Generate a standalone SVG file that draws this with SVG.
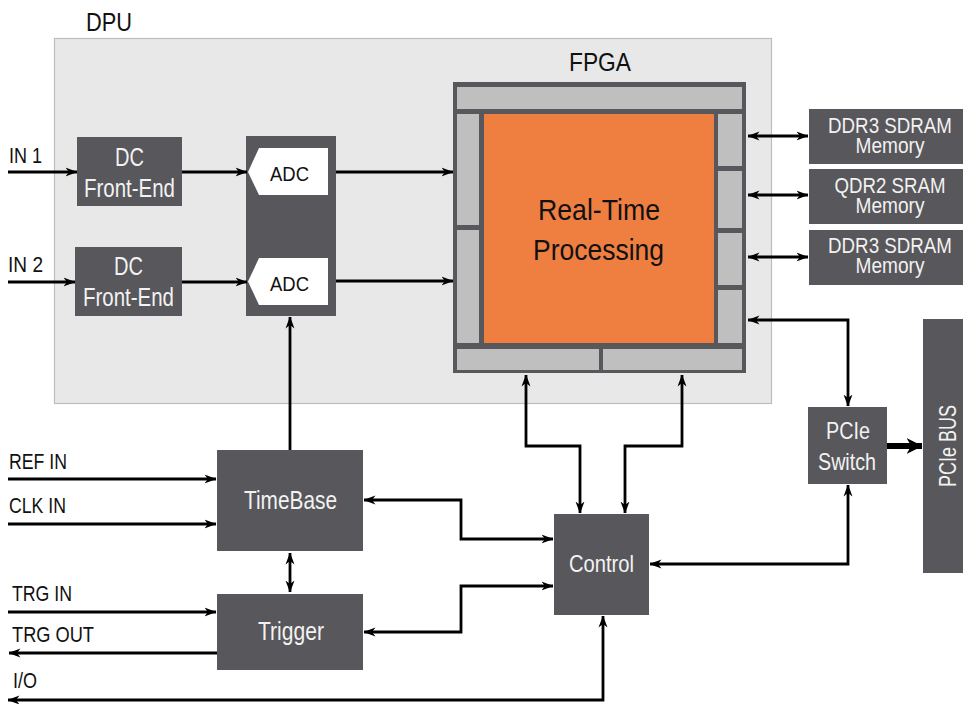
<svg xmlns="http://www.w3.org/2000/svg" width="963" height="704" viewBox="0 0 963 704">
<defs>
<style>
.box{fill:#58575b}
.lt{fill:#bfbfbf}
.wt{font-family:"Liberation Sans",Arial,sans-serif;fill:#f2f2f2;text-anchor:middle}
.bt{font-family:"Liberation Sans",Arial,sans-serif;fill:#111}
.ln{fill:none;stroke:#000;stroke-width:2.8}
.a{marker-end:url(#ah)}
.b{marker-start:url(#ah);marker-end:url(#ah)}
</style>
<marker id="ah" viewBox="0 0 12 10" refX="11.5" refY="5" markerWidth="12" markerHeight="10" markerUnits="userSpaceOnUse" orient="auto-start-reverse">
<path d="M0,0.5 L12,5 L0,9.5 L3.5,5 z" fill="#000"/>
</marker>
<marker id="ahb" viewBox="0 0 14 14" refX="13.5" refY="7" markerWidth="16" markerHeight="16" markerUnits="userSpaceOnUse" orient="auto">
<path d="M0,0 L14,7 L0,14 L4,7 z" fill="#000"/>
</marker>
</defs>

<g id="dpu">
<rect x="54.5" y="38.5" width="717" height="365" fill="#e8e8e8" stroke="#bdbdbd" stroke-width="1.2"/>
<text class="bt" x="86" y="31" font-size="26" textLength="46" lengthAdjust="spacingAndGlyphs">DPU</text>
</g>

<g id="dcfe1">
<rect class="box" x="77" y="137" width="105" height="69"/>
<text class="wt" x="129.5" y="166" font-size="25" textLength="29" lengthAdjust="spacingAndGlyphs">DC</text>
<text class="wt" x="129.5" y="197" font-size="25" textLength="91" lengthAdjust="spacingAndGlyphs">Front-End</text>
</g>
<g id="dcfe2">
<rect class="box" x="75" y="247" width="107" height="69"/>
<text class="wt" x="128.5" y="275" font-size="25" textLength="29" lengthAdjust="spacingAndGlyphs">DC</text>
<text class="wt" x="128.5" y="306" font-size="25" textLength="91" lengthAdjust="spacingAndGlyphs">Front-End</text>
</g>

<g id="adc">
<rect class="box" x="246" y="136" width="90" height="180"/>
<path d="M248,172 L259,148 L328,148 L328,195 L259,195 z" fill="#fff"/>
<path d="M248,281.5 L259,258 L328,258 L328,305 L259,305 z" fill="#fff"/>
<text class="bt" x="289.5" y="181" font-size="21" text-anchor="middle" textLength="39" lengthAdjust="spacingAndGlyphs">ADC</text>
<text class="bt" x="289.5" y="291" font-size="21" text-anchor="middle" textLength="39" lengthAdjust="spacingAndGlyphs">ADC</text>
</g>

<g id="fpga">
<text class="bt" x="600" y="71" font-size="26" text-anchor="middle" textLength="62" lengthAdjust="spacingAndGlyphs">FPGA</text>
<rect class="box" x="453" y="82" width="293" height="291"/>
<rect class="lt" x="457" y="87" width="285" height="22"/>
<rect class="lt" x="457" y="114" width="22" height="111"/>
<rect class="lt" x="457" y="230" width="22" height="113"/>
<rect class="lt" x="718" y="114" width="24" height="52"/>
<rect class="lt" x="718" y="171" width="24" height="57"/>
<rect class="lt" x="718" y="233" width="24" height="52"/>
<rect class="lt" x="718" y="290" width="24" height="53"/>
<rect class="lt" x="457" y="349" width="142" height="21"/>
<rect class="lt" x="603" y="349" width="139" height="21"/>
<rect x="484" y="114" width="230" height="229" fill="#ef7f41"/>
<text class="bt" x="599" y="220" font-size="30" text-anchor="middle" textLength="122" lengthAdjust="spacingAndGlyphs">Real-Time</text>
<text class="bt" x="598.5" y="260" font-size="30" text-anchor="middle" textLength="131" lengthAdjust="spacingAndGlyphs">Processing</text>
</g>

<g id="mem1">
<rect class="box" x="809" y="109" width="154" height="55"/>
<text class="wt" x="890" y="133" font-size="22" textLength="124" lengthAdjust="spacingAndGlyphs">DDR3 SDRAM</text>
<text class="wt" x="890" y="153" font-size="22" textLength="69" lengthAdjust="spacingAndGlyphs">Memory</text>
</g>
<g id="mem2">
<rect class="box" x="809" y="169" width="154" height="55"/>
<text class="wt" x="890" y="193" font-size="22" textLength="111" lengthAdjust="spacingAndGlyphs">QDR2 SRAM</text>
<text class="wt" x="890" y="213" font-size="22" textLength="69" lengthAdjust="spacingAndGlyphs">Memory</text>
</g>
<g id="mem3">
<rect class="box" x="809" y="230" width="154" height="55"/>
<text class="wt" x="890" y="253" font-size="22" textLength="124" lengthAdjust="spacingAndGlyphs">DDR3 SDRAM</text>
<text class="wt" x="890" y="273" font-size="22" textLength="69" lengthAdjust="spacingAndGlyphs">Memory</text>
</g>

<g id="pcieswitch">
<rect class="box" x="808" y="407" width="79" height="77"/>
<text class="wt" x="848" y="439" font-size="24" textLength="44" lengthAdjust="spacingAndGlyphs">PCIe</text>
<text class="wt" x="847" y="470" font-size="24" textLength="58" lengthAdjust="spacingAndGlyphs">Switch</text>
</g>

<g id="pciebus">
<rect class="box" x="923" y="319" width="40" height="254"/>
<text class="wt" transform="translate(956,446) rotate(-90)" font-size="23" textLength="82" lengthAdjust="spacingAndGlyphs">PCIe BUS</text>
</g>

<g id="control">
<rect class="box" x="554" y="514" width="95" height="101"/>
<text class="wt" x="601.5" y="572" font-size="24" textLength="65" lengthAdjust="spacingAndGlyphs">Control</text>
</g>

<g id="timebase">
<rect class="box" x="217" y="450" width="146" height="101"/>
<text class="wt" x="290.5" y="509" font-size="25" textLength="93" lengthAdjust="spacingAndGlyphs">TimeBase</text>
</g>

<g id="trigger">
<rect class="box" x="217" y="594" width="146" height="76"/>
<text class="wt" x="291" y="640" font-size="25" textLength="66" lengthAdjust="spacingAndGlyphs">Trigger</text>
</g>

<g id="labels">
<text class="bt" x="9" y="163" font-size="22" textLength="33" lengthAdjust="spacingAndGlyphs">IN 1</text>
<text class="bt" x="8" y="272" font-size="22" textLength="35" lengthAdjust="spacingAndGlyphs">IN 2</text>
<text class="bt" x="9" y="469" font-size="22" textLength="58" lengthAdjust="spacingAndGlyphs">REF IN</text>
<text class="bt" x="9" y="513" font-size="22" textLength="57" lengthAdjust="spacingAndGlyphs">CLK IN</text>
<text class="bt" x="12" y="601" font-size="22" textLength="60" lengthAdjust="spacingAndGlyphs">TRG IN</text>
<text class="bt" x="12" y="642" font-size="22" textLength="82" lengthAdjust="spacingAndGlyphs">TRG OUT</text>
<text class="bt" x="13" y="688" font-size="22" textLength="24" lengthAdjust="spacingAndGlyphs">I/O</text>
</g>

<g id="connectors">
<path class="ln a" d="M8,172 H77"/>
<path class="ln a" d="M8,282 H75"/>
<path class="ln a" d="M182,172 H247"/>
<path class="ln a" d="M182,282 H247"/>
<path class="ln a" d="M336,172 H453"/>
<path class="ln a" d="M336,281 H453"/>
<path class="ln b" d="M748,136 H808"/>
<path class="ln b" d="M748,195 H808"/>
<path class="ln b" d="M748,257 H808"/>
<path class="ln b" d="M748,320 H848 V406"/>
<path fill="none" stroke="#000" stroke-width="6" marker-end="url(#ahb)" d="M887,446 H922"/>
<path class="ln b" d="M650,564 H848 V485"/>
<path class="ln b" d="M526,375 V446 H580 V513"/>
<path class="ln b" d="M682,375 V446 H625 V513"/>
<path class="ln b" d="M603,616 V700 H8"/>
<path class="ln a" d="M290,450 V317"/>
<path class="ln a" d="M8,479 H216"/>
<path class="ln a" d="M8,524 H216"/>
<path class="ln a" d="M8,612 H216"/>
<path class="ln a" d="M217,653 H9"/>
<path class="ln b" d="M290,553 V592"/>
<path class="ln b" d="M364,500 H461 V539 H553"/>
<path class="ln b" d="M364,632 H461 V586 H553"/>
</g>
</svg>
